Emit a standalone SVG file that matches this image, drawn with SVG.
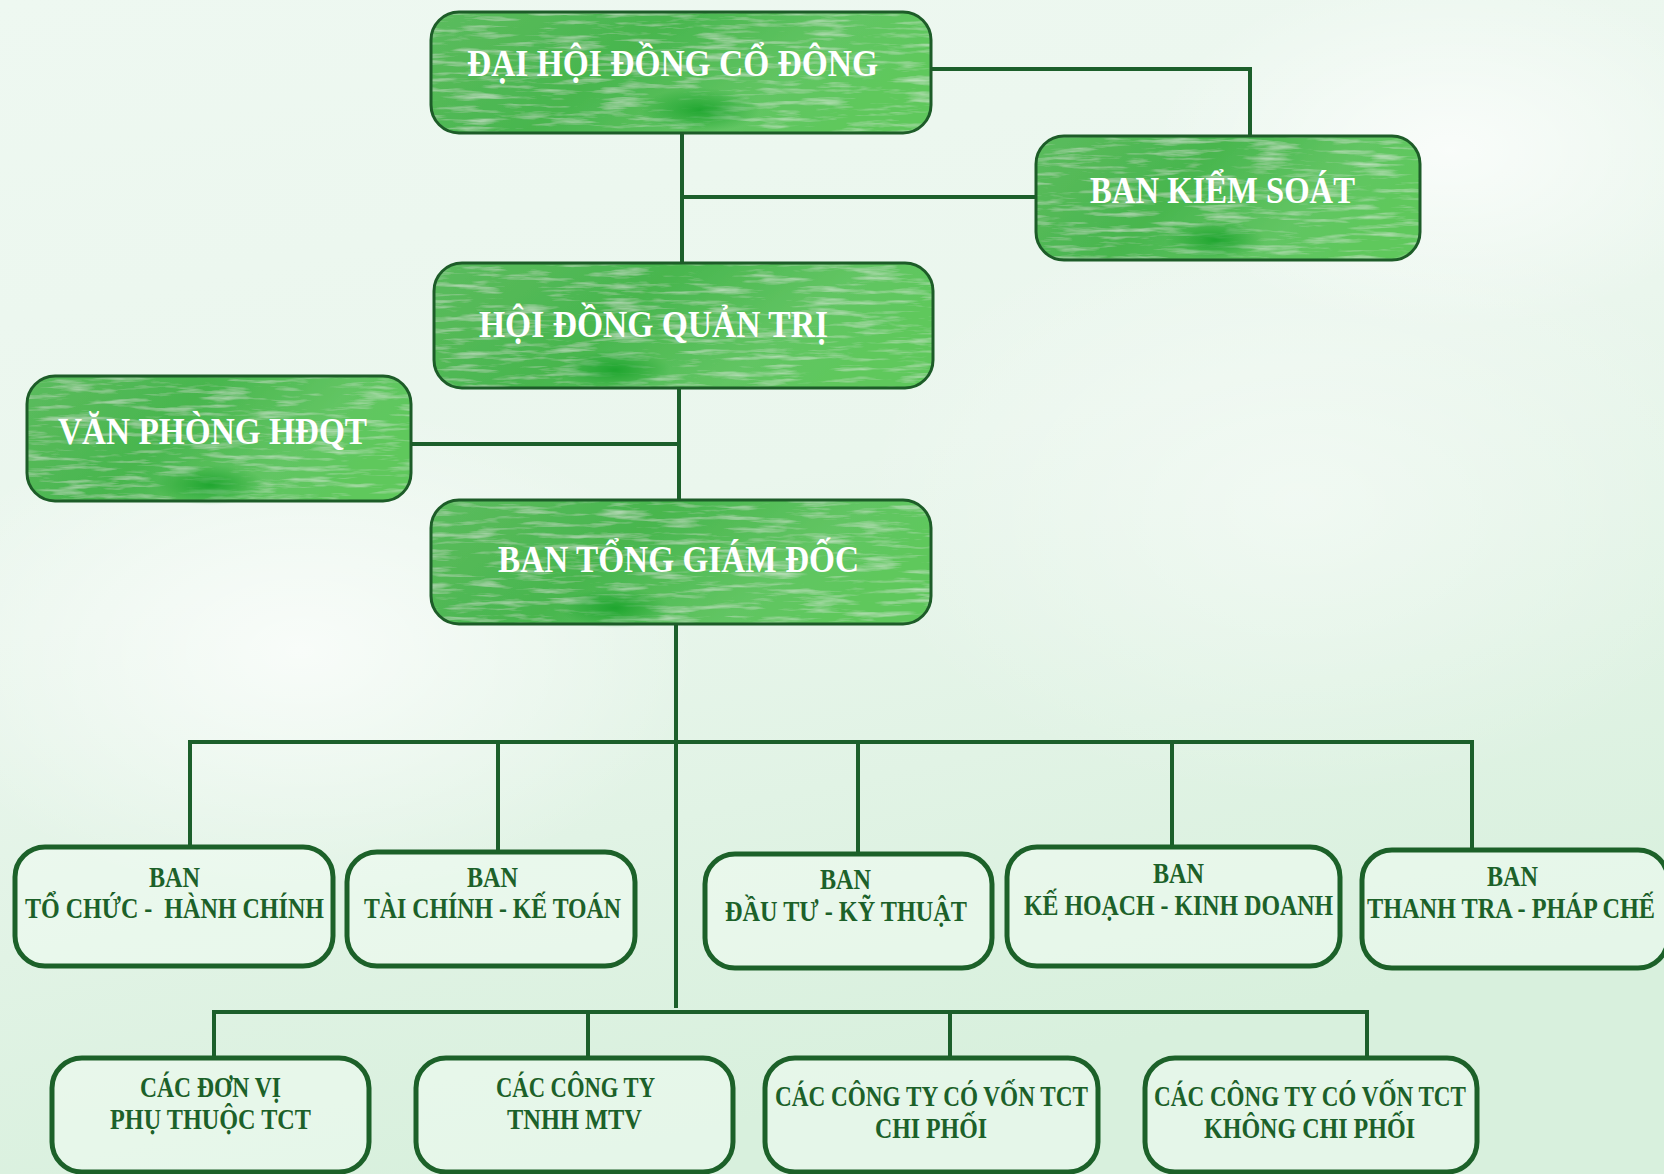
<svg xmlns="http://www.w3.org/2000/svg" width="1664" height="1174" viewBox="0 0 1664 1174">
<defs>
<linearGradient id="bg" x1="0" y1="0" x2="0.3" y2="1">
<stop offset="0" stop-color="#eef8f1"/>
<stop offset="0.5" stop-color="#eaf6ed"/>
<stop offset="1" stop-color="#d8f0dd"/>
</linearGradient>
<radialGradient id="blob" cx="0.5" cy="0.5" r="0.5">
<stop offset="0" stop-color="#ffffff" stop-opacity="0.7"/>
<stop offset="1" stop-color="#ffffff" stop-opacity="0"/>
</radialGradient>
<linearGradient id="gfill" x1="0" y1="0" x2="1" y2="0.3">
<stop offset="0" stop-color="#5cbc5e"/>
<stop offset="0.45" stop-color="#48b64e"/>
<stop offset="0.8" stop-color="#62c563"/>
<stop offset="1" stop-color="#5ec85c"/>
</linearGradient>
<radialGradient id="dark" cx="0.5" cy="0.5" r="0.5">
<stop offset="0" stop-color="#12a025" stop-opacity="0.8"/>
<stop offset="1" stop-color="#12a025" stop-opacity="0"/>
</radialGradient>
<filter id="wc" x="0" y="0" width="100%" height="100%">
<feTurbulence type="fractalNoise" baseFrequency="0.02 0.18" numOctaves="4" seed="7" result="n"/>
<feColorMatrix in="n" type="matrix" values="0 0 0 0 1  0 0 0 0 1  0 0 0 0 1  0 0 0 0.9 -0.45" result="w"/>
<feComposite in="w" in2="SourceGraphic" operator="in" result="wi"/>
<feMerge><feMergeNode in="SourceGraphic"/><feMergeNode in="wi"/></feMerge>
</filter>
<style>
.gbox{fill:url(#gfill);filter:url(#wc);}
.gedge{fill:none;stroke:#1d5c28;stroke-width:3;}
.gtxt{font-family:"Liberation Serif","DejaVu Serif",serif;font-weight:bold;font-size:38px;fill:#ffffff;}
.lbox{fill:#f1fbf3;fill-opacity:0.55;stroke:#1c6129;stroke-width:5;}
.ltxt{font-family:"Liberation Serif","DejaVu Serif",serif;font-weight:bold;font-size:29px;fill:#1c6129;white-space:pre;}
.conn{fill:none;stroke:#1c5f2b;stroke-width:4;}
</style>
</defs>
<rect x="0" y="0" width="1664" height="1174" fill="url(#bg)"/>
<ellipse cx="300" cy="650" rx="400" ry="250" fill="url(#blob)"/>
<ellipse cx="1300" cy="500" rx="450" ry="300" fill="url(#blob)" opacity="0.6"/>
<ellipse cx="1450" cy="150" rx="300" ry="180" fill="url(#blob)"/>

<g id="connectors">
<path class="conn" d="M931 69 H1250 V136"/>
<path class="conn" d="M682 133 V263"/>
<path class="conn" d="M682 197 H1036"/>
<path class="conn" d="M679 388 V500"/>
<path class="conn" d="M411 444 H679"/>
<path class="conn" d="M676 624 V1008"/>
<path class="conn" d="M190 847 V742 H1472 V850"/>
<path class="conn" d="M498 742 V852"/>
<path class="conn" d="M858 742 V854"/>
<path class="conn" d="M1172 742 V847"/>
<path class="conn" d="M214 1058 V1012 H1367 V1058"/>
<path class="conn" d="M588 1012 V1058"/>
<path class="conn" d="M950 1012 V1058"/>
</g>

<g id="dai-hoi-dong-co-dong">
<rect class="gbox" x="431" y="12" width="500" height="121" rx="28"/>
<ellipse cx="700" cy="110" rx="60" ry="22" fill="url(#dark)"/>
<rect class="gedge" x="431" y="12" width="500" height="121" rx="28"/>
<text class="gtxt" x="467" y="76" textLength="411" lengthAdjust="spacingAndGlyphs">ĐẠI HỘI ĐỒNG CỔ ĐÔNG</text>
</g>

<g id="ban-kiem-soat">
<rect class="gbox" x="1036" y="136" width="384" height="124" rx="28"/>
<ellipse cx="1215" cy="240" rx="50" ry="20" fill="url(#dark)"/>
<rect class="gedge" x="1036" y="136" width="384" height="124" rx="28"/>
<text class="gtxt" x="1090" y="203" textLength="265" lengthAdjust="spacingAndGlyphs">BAN KIỂM SOÁT</text>
</g>

<g id="hoi-dong-quan-tri">
<rect class="gbox" x="434" y="263" width="499" height="125" rx="28"/>
<ellipse cx="615" cy="370" rx="55" ry="20" fill="url(#dark)"/>
<rect class="gedge" x="434" y="263" width="499" height="125" rx="28"/>
<text class="gtxt" x="479" y="337" textLength="349" lengthAdjust="spacingAndGlyphs">HỘI ĐỒNG QUẢN TRỊ</text>
</g>

<g id="van-phong-hdqt">
<rect class="gbox" x="27" y="376" width="384" height="125" rx="28"/>
<ellipse cx="210" cy="485" rx="55" ry="20" fill="url(#dark)"/>
<rect class="gedge" x="27" y="376" width="384" height="125" rx="28"/>
<text class="gtxt" x="58" y="444" textLength="309" lengthAdjust="spacingAndGlyphs">VĂN PHÒNG HĐQT</text>
</g>

<g id="ban-tong-giam-doc">
<rect class="gbox" x="431" y="500" width="500" height="124" rx="28"/>
<ellipse cx="615" cy="608" rx="55" ry="20" fill="url(#dark)"/>
<rect class="gedge" x="431" y="500" width="500" height="124" rx="28"/>
<text class="gtxt" x="498" y="572" textLength="361" lengthAdjust="spacingAndGlyphs">BAN TỔNG GIÁM ĐỐC</text>
</g>

<g id="ban-to-chuc-hanh-chinh">
<rect class="lbox" x="15" y="847" width="318" height="119" rx="30"/>
<text class="ltxt" x="149" y="887" textLength="51" lengthAdjust="spacingAndGlyphs">BAN</text>
<text class="ltxt" x="25" y="918" textLength="299" lengthAdjust="spacingAndGlyphs">TỔ CHỨC -  HÀNH CHÍNH</text>
</g>

<g id="ban-tai-chinh-ke-toan">
<rect class="lbox" x="347" y="852" width="288" height="114" rx="30"/>
<text class="ltxt" x="467" y="887" textLength="51" lengthAdjust="spacingAndGlyphs">BAN</text>
<text class="ltxt" x="364" y="918" textLength="257" lengthAdjust="spacingAndGlyphs">TÀI CHÍNH - KẾ TOÁN</text>
</g>

<g id="ban-dau-tu-ky-thuat">
<rect class="lbox" x="705" y="854" width="287" height="114" rx="30"/>
<text class="ltxt" x="820" y="889" textLength="51" lengthAdjust="spacingAndGlyphs">BAN</text>
<text class="ltxt" x="725" y="921" textLength="242" lengthAdjust="spacingAndGlyphs">ĐẦU TƯ - KỸ THUẬT</text>
</g>

<g id="ban-ke-hoach-kinh-doanh">
<rect class="lbox" x="1007" y="847" width="333" height="119" rx="30"/>
<text class="ltxt" x="1153" y="883" textLength="51" lengthAdjust="spacingAndGlyphs">BAN</text>
<text class="ltxt" x="1024" y="915" textLength="309" lengthAdjust="spacingAndGlyphs">KẾ HOẠCH - KINH DOANH</text>
</g>

<g id="ban-thanh-tra-phap-che">
<rect class="lbox" x="1362" y="850" width="306" height="118" rx="30"/>
<text class="ltxt" x="1487" y="886" textLength="51" lengthAdjust="spacingAndGlyphs">BAN</text>
<text class="ltxt" x="1367" y="918" textLength="288" lengthAdjust="spacingAndGlyphs">THANH TRA - PHÁP CHẾ</text>
</g>

<g id="cac-don-vi-phu-thuoc">
<rect class="lbox" x="52" y="1058" width="317" height="114" rx="30"/>
<text class="ltxt" x="140" y="1097" textLength="141" lengthAdjust="spacingAndGlyphs">CÁC ĐƠN VỊ</text>
<text class="ltxt" x="110" y="1129" textLength="201" lengthAdjust="spacingAndGlyphs">PHỤ THUỘC TCT</text>
</g>

<g id="cac-cong-ty-tnhh-mtv">
<rect class="lbox" x="416" y="1058" width="317" height="114" rx="30"/>
<text class="ltxt" x="496" y="1097" textLength="159" lengthAdjust="spacingAndGlyphs">CÁC CÔNG TY</text>
<text class="ltxt" x="507" y="1129" textLength="135" lengthAdjust="spacingAndGlyphs">TNHH MTV</text>
</g>

<g id="cac-cong-ty-chi-phoi">
<rect class="lbox" x="765" y="1058" width="333" height="114" rx="30"/>
<text class="ltxt" x="775" y="1106" textLength="313" lengthAdjust="spacingAndGlyphs">CÁC CÔNG TY CÓ VỐN TCT</text>
<text class="ltxt" x="875" y="1138" textLength="112" lengthAdjust="spacingAndGlyphs">CHI PHỐI</text>
</g>

<g id="cac-cong-ty-khong-chi-phoi">
<rect class="lbox" x="1145" y="1058" width="332" height="114" rx="30"/>
<text class="ltxt" x="1154" y="1106" textLength="312" lengthAdjust="spacingAndGlyphs">CÁC CÔNG TY CÓ VỐN TCT</text>
<text class="ltxt" x="1204" y="1138" textLength="211" lengthAdjust="spacingAndGlyphs">KHÔNG CHI PHỐI</text>
</g>
</svg>
